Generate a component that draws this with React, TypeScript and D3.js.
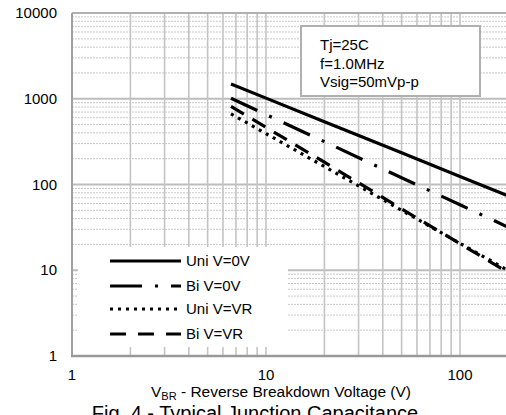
import React, { useRef, useEffect } from 'react';
import * as d3 from 'd3';

// reverse breakdown voltage (V)
const voltages = [6.6, 10, 20, 50, 100, 200];
// junction capacitance (pF) per series
const uniZero = [1490, 1017, 540, 234, 124, 66];
const biZero = [1012, 654, 316, 120, 58, 28];
const uniVR = [667, 392, 162, 50, 20.6, 8.5];
const biVR = [817, 464, 182, 52, 20.4, 8.0];

const seriesNames = ['Uni V=0V', 'Bi V=0V', 'Uni V=VR', 'Bi V=VR'];
const xTicks = [1, 10, 100];
const yTicks = [1, 10, 100, 1000, 10000];
const notes = ['Tj=25C', 'f=1.0MHz', 'Vsig=50mVp-p'];

const FONT = '"Liberation Sans", Arial, sans-serif';

const App = () => {
  const svgRef = useRef<SVGSVGElement>(null);
  const width = 506;
  const height = 415;

  useEffect(() => {
    const svg = d3.select(svgRef.current);
    svg.selectAll('*').remove();

    const left = 72;
    const top = 13;
    const bottom = 356;
    // plot continues past the right side of the picture (to 200 V)
    const x = d3.scaleLog().domain([1, 200]).range([left, left + 194 * Math.log10(200)]);
    const y = d3.scaleLog().domain([1, 10000]).range([bottom, top]);
    const right = x(200);

    const grid = svg.append('g');
    // minor horizontal lines
    const minorY: number[] = [];
    for (let d = 1; d < 10000; d *= 10) for (let k = 2; k <= 9; k++) minorY.push(d * k);
    grid.selectAll('.hmin').data(minorY).enter().append('line')
      .attr('x1', left).attr('x2', right)
      .attr('y1', d => y(d)).attr('y2', d => y(d))
      .attr('stroke', '#c8c8c8').attr('stroke-width', 1).attr('stroke-dasharray', '2,1');
    // major horizontal lines
    grid.selectAll('.hmaj').data([10, 100, 1000]).enter().append('line')
      .attr('x1', left).attr('x2', right)
      .attr('y1', d => y(d)).attr('y2', d => y(d))
      .attr('stroke', '#bdbdbd').attr('stroke-width', 2);
    // vertical lines
    const vx: number[] = [];
    for (let d = 1; d < 200; d *= 10) for (let k = 2; k <= 10; k++) if (d * k <= 200) vx.push(d * k);
    grid.selectAll('.v').data(vx).enter().append('line')
      .attr('x1', d => x(d)).attr('x2', d => x(d))
      .attr('y1', top).attr('y2', bottom)
      .attr('stroke', '#c4c4c4').attr('stroke-width', 1.6);
    // frame
    grid.append('line').attr('x1', left).attr('x2', right).attr('y1', top).attr('y2', top)
      .attr('stroke', '#b0b0b0').attr('stroke-width', 2);
    grid.append('line').attr('x1', left).attr('x2', left).attr('y1', top).attr('y2', bottom)
      .attr('stroke', '#a0a0a0').attr('stroke-width', 2);
    grid.append('line').attr('x1', left - 1).attr('x2', right).attr('y1', bottom).attr('y2', bottom)
      .attr('stroke', '#999').attr('stroke-width', 2.5);

    // annotation box
    svg.append('rect').attr('x', 301).attr('y', 26).attr('width', 179).attr('height', 70)
      .attr('fill', '#fff').attr('stroke', '#b0b0b0').attr('stroke-width', 2);
    svg.selectAll('.note').data(notes).enter().append('text')
      .attr('x', 320).attr('y', (d, i) => 50 + i * 18.5)
      .attr('font-family', FONT).attr('font-size', 15).text(d => d);

    // curves
    const allSeries = [uniZero, biZero, uniVR, biVR];
    const dashes = [null, '29,13,3,13', '3,5', '15,10'];
    const line = d3.line<number>()
      .x((d, i) => x(voltages[i]))
      .y(d => y(d));
    allSeries.forEach((s, i) => {
      svg.append('path').datum(s)
        .attr('fill', 'none').attr('stroke', '#000').attr('stroke-width', 3.2)
        .attr('stroke-dasharray', dashes[i])
        .attr('d', line);
    });

    // legend
    svg.append('rect').attr('x', 78).attr('y', 247).attr('width', 210).attr('height', 100).attr('fill', '#fff');
    const legendY = [261, 286, 309, 334];
    const lg = svg.selectAll('.lg').data(seriesNames).enter().append('g');
    lg.append('line')
      .attr('x1', 110).attr('x2', 181)
      .attr('y1', (d, i) => legendY[i]).attr('y2', (d, i) => legendY[i])
      .attr('stroke', '#000').attr('stroke-width', 3.2)
      .attr('stroke-dasharray', (d, i) => (i === 1 ? '32,13,3,13' : i === 3 ? '16,12' : dashes[i]));
    lg.append('text')
      .attr('x', 186).attr('y', (d, i) => legendY[i] + 5)
      .attr('font-family', FONT).attr('font-size', 15).text(d => d);

    // tick labels
    svg.selectAll('.yl').data(yTicks).enter().append('text')
      .attr('x', 57).attr('y', d => y(d) + 5).attr('text-anchor', 'end')
      .attr('font-family', FONT).attr('font-size', 15).text(d => d);
    svg.selectAll('.xl').data(xTicks).enter().append('text')
      .attr('x', d => x(d)).attr('y', 380).attr('text-anchor', 'middle')
      .attr('font-family', FONT).attr('font-size', 15).text(d => d);

    // axis title
    const xt = svg.append('text').attr('x', 281).attr('y', 397).attr('text-anchor', 'middle')
      .attr('font-family', FONT).attr('font-size', 15.5);
    xt.append('tspan').text('V');
    xt.append('tspan').attr('font-size', 11).attr('dy', 3).text('BR');
    xt.append('tspan').attr('dy', -3).text(' - Reverse Breakdown Voltage (V)');

    // figure caption, cut by the bottom edge as in the source image
    svg.append('text').attr('x', 255).attr('y', 420).attr('text-anchor', 'middle')
      .attr('font-family', FONT).attr('font-size', 20).text('Fig. 4 - Typical Junction Capacitance');
  }, []);

  return (
    <div style={{ position: 'absolute', left: 0, top: 0 }}>
      <svg ref={svgRef} width={width} height={height} style={{ display: 'block' }}></svg>
    </div>
  );
};

export default App;
